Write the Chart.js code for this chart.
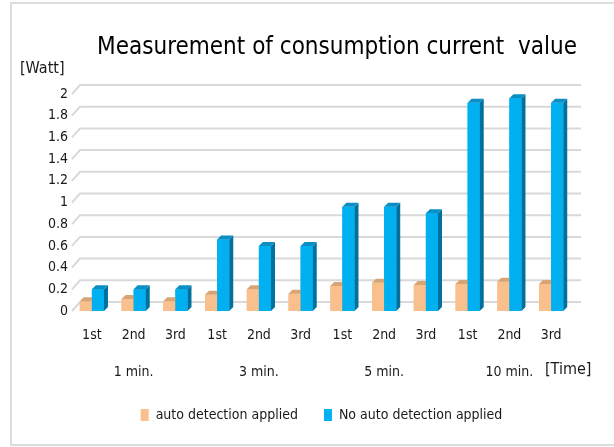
<!DOCTYPE html>
<html>
<head>
<meta charset="utf-8">
<script src="https://cdn.jsdelivr.net/npm/chart.js@4"></script>
<style>
  html, body { margin: 0; padding: 0; background: #fff; }
  #wrap { position: relative; width: 614px; height: 447px; overflow: hidden; }
  #frame { position: absolute; left: 10px; top: 2px; width: 620px; height: 444px;
    border: 2px solid #dcdcdc; border-right: none; box-sizing: border-box; }
  #chart { position: absolute; left: 0; top: 0; }
</style>
</head>
<body>
<div id="wrap">
  <div id="frame"></div>
  <canvas id="chart" width="614" height="447"></canvas>
</div>
<script>
const categories = ["1st", "2nd", "3rd", "1st", "2nd", "3rd", "1st", "2nd", "3rd", "1st", "2nd", "3rd"];
const groupLabels = ["1 min.", "3 min.", "5 min.", "10 min."];
const autoDetection = [0.09, 0.11, 0.09, 0.15, 0.2, 0.16, 0.23, 0.26, 0.24, 0.25, 0.27, 0.25];
const noAutoDetection = [0.2, 0.2, 0.2, 0.66, 0.6, 0.6, 0.96, 0.96, 0.9, 1.92, 1.96, 1.92];
const wattTicks = [0, 0.2, 0.4, 0.6, 0.8, 1, 1.2, 1.4, 1.6, 1.8, 2];

const FONT = "'Liberation Sans Narrow', 'DejaVu Sans Condensed', sans-serif";
const TEXT = "#1a1a1a";
const DEPTH = 9;
const BAR_DEPTH = 4;

const faceColors = [
  { top: "#d9a475", side: "#d19a6a" },
  { top: "#0a8fc4", side: "#00719e" },
];

// back-wall grid, drawn with a small perspective offset like the original
const wallGrid = {
  id: "wallGrid",
  beforeDatasetsDraw(chart) {
    const { ctx, chartArea, scales } = chart;
    ctx.save();
    ctx.strokeStyle = "#d9d9d9";
    ctx.lineWidth = 2;
    wattTicks.forEach((v) => {
      const y = scales.y.getPixelForValue(v);
      ctx.beginPath();
      ctx.moveTo(chartArea.left + 1, y);
      ctx.lineTo(chartArea.left + DEPTH, y - DEPTH);
      ctx.lineTo(chartArea.right + DEPTH, y - DEPTH);
      ctx.stroke();
    });
    ctx.restore();
  },
};

// redraw bars left to right with top and side faces for the 3d look
const barFaces = {
  id: "barFaces",
  afterDatasetsDraw(chart) {
    const { ctx } = chart;
    ctx.save();
    chart.data.datasets.forEach((ds, i) => {
      const colors = faceColors[i];
      chart.getDatasetMeta(i).data.forEach((bar) => {
        bar.draw(ctx);
        const half = bar.width / 2;
        const l = bar.x - half;
        const r = bar.x + half;
        ctx.fillStyle = colors.side;
        ctx.beginPath();
        ctx.moveTo(r, bar.y);
        ctx.lineTo(r + BAR_DEPTH, bar.y - BAR_DEPTH);
        ctx.lineTo(r + BAR_DEPTH, bar.base - BAR_DEPTH);
        ctx.lineTo(r, bar.base);
        ctx.closePath();
        ctx.fill();
        ctx.fillStyle = colors.top;
        ctx.beginPath();
        ctx.moveTo(l, bar.y);
        ctx.lineTo(l + BAR_DEPTH, bar.y - BAR_DEPTH);
        ctx.lineTo(r + BAR_DEPTH, bar.y - BAR_DEPTH);
        ctx.lineTo(r, bar.y);
        ctx.closePath();
        ctx.fill();
      });
    });
    ctx.restore();
  },
};

const extraText = {
  id: "extraText",
  afterDraw(chart) {
    const { ctx } = chart;
    ctx.save();
    ctx.fillStyle = "#000";
    ctx.textBaseline = "middle";
    ctx.textAlign = "center";
    ctx.font = "24px " + FONT;
    ctx.fillText("Measurement of consumption current  value", 337, 48);
    ctx.fillStyle = TEXT;
    ctx.font = "16px " + FONT;
    ctx.textAlign = "left";
    ctx.fillText("[Watt]", 20, 69);
    ctx.fillText("[Time]", 545, 370);
    ctx.restore();
  },
};

new Chart(document.getElementById("chart"), {
  type: "bar",
  data: {
    labels: categories,
    datasets: [
      {
        label: "auto detection applied",
        data: autoDetection,
        backgroundColor: "#f9c08e",
      },
      {
        label: "No auto detection applied",
        data: noAutoDetection,
        backgroundColor: "#00b0f0",
      },
    ],
  },
  options: {
    responsive: false,
    animation: false,
    categoryPercentage: 0.58,
    barPercentage: 1,
    layout: { padding: { left: 20, right: 42, top: 94, bottom: 15 } },
    plugins: {
      title: { display: false },
      tooltip: { enabled: false },
      legend: {
        position: "bottom",
        fullSize: false,
        labels: {
          boxWidth: 8,
          boxHeight: 12,
          padding: 26,
          color: TEXT,
          font: { family: FONT, size: 14 },
        },
      },
    },
    scales: {
      x: {
        grid: { display: false, drawTicks: false },
        border: { display: false },
        afterFit(scale) { scale.height = 40; },
        ticks: { color: TEXT, padding: 16, font: { family: FONT, size: 14 } },
      },
      x2: {
        type: "category",
        labels: groupLabels,
        position: "bottom",
        grid: { display: false, drawTicks: false },
        border: { display: false },
        afterFit(scale) { scale.height = 31; },
        ticks: { color: TEXT, padding: 13, font: { family: FONT, size: 14 } },
      },
      y: {
        min: 0,
        max: 2,
        afterFit(scale) { scale.width = 51; },
        afterBuildTicks(scale) { scale.ticks = wattTicks.map((v) => ({ value: v })); },
        grid: { display: false, drawTicks: false },
        border: { display: false },
        ticks: {
          color: TEXT,
          padding: 3,
          font: { family: FONT, size: 14 },
          callback: (value) => String(value),
        },
      },
    },
  },
  plugins: [wallGrid, barFaces, extraText],
});
</script>
</body>
</html>
